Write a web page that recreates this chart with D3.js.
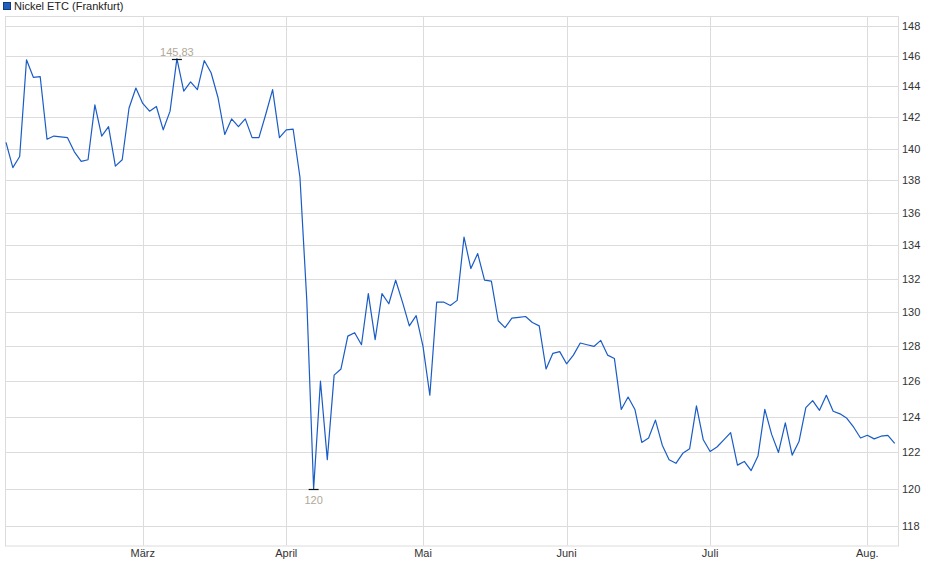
<!DOCTYPE html>
<html lang="de">
  <head>
    <meta charset="UTF-8" />
    <title>Nickel ETC (Frankfurt)</title>
    <script src="https://d3js.org/d3.v7.min.js"></script>
    <style>
      body {
        margin: 0;
        background: #fff;
      }
      text {
        font-family: "Liberation Sans", Arial, sans-serif;
        font-size: 11px;
      }
    </style>
  </head>
  <body>
    <div id="chart"></div>
    <script>
      // closing prices, one per trading day
      const prices = [
        140.4, 138.8, 139.5, 145.75, 144.6, 144.65, 140.6, 140.8, 140.75, 140.7,
        139.8, 139.2, 139.3, 142.8, 140.8, 141.4, 138.9, 139.3, 142.6, 143.9,
        142.9, 142.4, 142.7, 141.2, 142.4, 145.83, 143.7, 144.3, 143.8, 145.7,
        144.9, 143.3, 140.9, 141.9, 141.4, 141.9, 140.7, 140.7, 142.2, 143.8,
        140.7, 141.2, 141.25, 138.2, 130.7, 120.0, 126.0, 121.6, 126.35, 126.7,
        128.6, 128.8, 128.1, 131.1, 128.4, 131.1, 130.5, 131.9, 130.6, 129.2,
        129.8, 128.0, 125.2, 130.6, 130.6, 130.4, 130.7, 134.5, 132.6, 133.5,
        131.9, 131.85, 129.5, 129.1, 129.65, 129.7, 129.75, 129.4, 129.2, 126.7,
        127.6, 127.7, 127.0, 127.5, 128.2, 128.1, 128.0, 128.35, 127.5, 127.3,
        124.4, 125.1, 124.4, 122.55, 122.8, 123.8, 122.4, 121.6, 121.4, 121.95,
        122.2, 124.6, 122.7, 122.05, 122.3, 122.7, 123.1, 121.3, 121.5, 121.0,
        121.8, 124.4, 123.0, 122.0, 123.65, 121.85, 122.6, 124.5, 124.9, 124.35,
        125.2, 124.3, 124.15, 123.9, 123.4, 122.8, 122.95, 122.75, 122.9, 122.95,
        122.5
      ];

      // first trading day of each month (index into prices)
      const monthIndex = [20, 41, 61, 82, 103, 126];
      const monthLabels = ["März", "April", "Mai", "Juni", "Juli", "Aug."];

      const yTicks = d3.range(118, 149, 2);

      const width = 940,
        height = 579;
      const box = { left: 5, right: 898, top: 16, bottom: 545.5 };

      const svg = d3
        .select("#chart")
        .append("svg")
        .attr("width", width)
        .attr("height", height);

      const x = d3.scaleLinear().domain([0, prices.length - 1]).range([6, 894.7]);
      const y = d3.scaleLog().domain([118, 148]).range([526, 26]);

      const gridColor = "#dcdcdc";

      // horizontal grid
      svg
        .append("g")
        .selectAll("line")
        .data(yTicks)
        .join("line")
        .attr("x1", box.left)
        .attr("x2", box.right)
        .attr("y1", (d) => Math.round(y(d)) + 0.5)
        .attr("y2", (d) => Math.round(y(d)) + 0.5)
        .attr("stroke", gridColor);

      // vertical month grid
      svg
        .append("g")
        .selectAll("line")
        .data(monthIndex)
        .join("line")
        .attr("x1", (d) => Math.round(x(d)) + 0.5)
        .attr("x2", (d) => Math.round(x(d)) + 0.5)
        .attr("y1", box.top)
        .attr("y2", box.bottom)
        .attr("stroke", gridColor);

      // plot frame
      svg
        .append("rect")
        .attr("x", box.left + 0.5)
        .attr("y", box.top + 0.5)
        .attr("width", box.right - box.left)
        .attr("height", box.bottom - box.top)
        .attr("fill", "none")
        .attr("stroke", gridColor);

      // y axis labels on the right
      svg
        .append("g")
        .selectAll("text")
        .data(yTicks)
        .join("text")
        .attr("x", 902)
        .attr("y", (d) => y(d) + 4)
        .attr("fill", "#333")
        .text((d) => d);

      // month labels
      svg
        .append("g")
        .selectAll("text")
        .data(monthIndex)
        .join("text")
        .attr("x", (d) => x(d))
        .attr("y", 557)
        .attr("text-anchor", "middle")
        .attr("fill", "#333")
        .text((d, i) => monthLabels[i]);

      // price line
      const line = d3
        .line()
        .x((d, i) => x(i))
        .y((d) => y(d));

      svg
        .append("path")
        .datum(prices)
        .attr("d", line)
        .attr("fill", "none")
        .attr("stroke", "#1a5cc6")
        .attr("stroke-width", 1.2)
        .attr("stroke-linejoin", "round");

      // high / low markers
      const hi = d3.maxIndex(prices),
        lo = d3.minIndex(prices);
      const fmt = (v) => String(v).replace(".", ",");

      [
        { i: hi, dy: -4 },
        { i: lo, dy: 14 }
      ].forEach((m) => {
        const px = x(m.i),
          py = Math.round(y(prices[m.i])) + 0.5;
        svg
          .append("line")
          .attr("x1", px - 5)
          .attr("x2", px + 5)
          .attr("y1", py)
          .attr("y2", py)
          .attr("stroke", "#111")
          .attr("stroke-width", 1.2);
        svg
          .append("text")
          .attr("x", px)
          .attr("y", py + m.dy)
          .attr("text-anchor", "middle")
          .attr("fill", "#b0a898")
          .text(fmt(prices[m.i]));
      });

      // legend
      svg
        .append("rect")
        .attr("x", 3.5)
        .attr("y", 2.5)
        .attr("width", 7)
        .attr("height", 7)
        .attr("fill", "#1f5fc0")
        .attr("stroke", "#153a7a");
      svg
        .append("text")
        .attr("x", 14)
        .attr("y", 10)
        .attr("fill", "#222")
        .text("Nickel ETC (Frankfurt)");
    </script>
  </body>
</html>
